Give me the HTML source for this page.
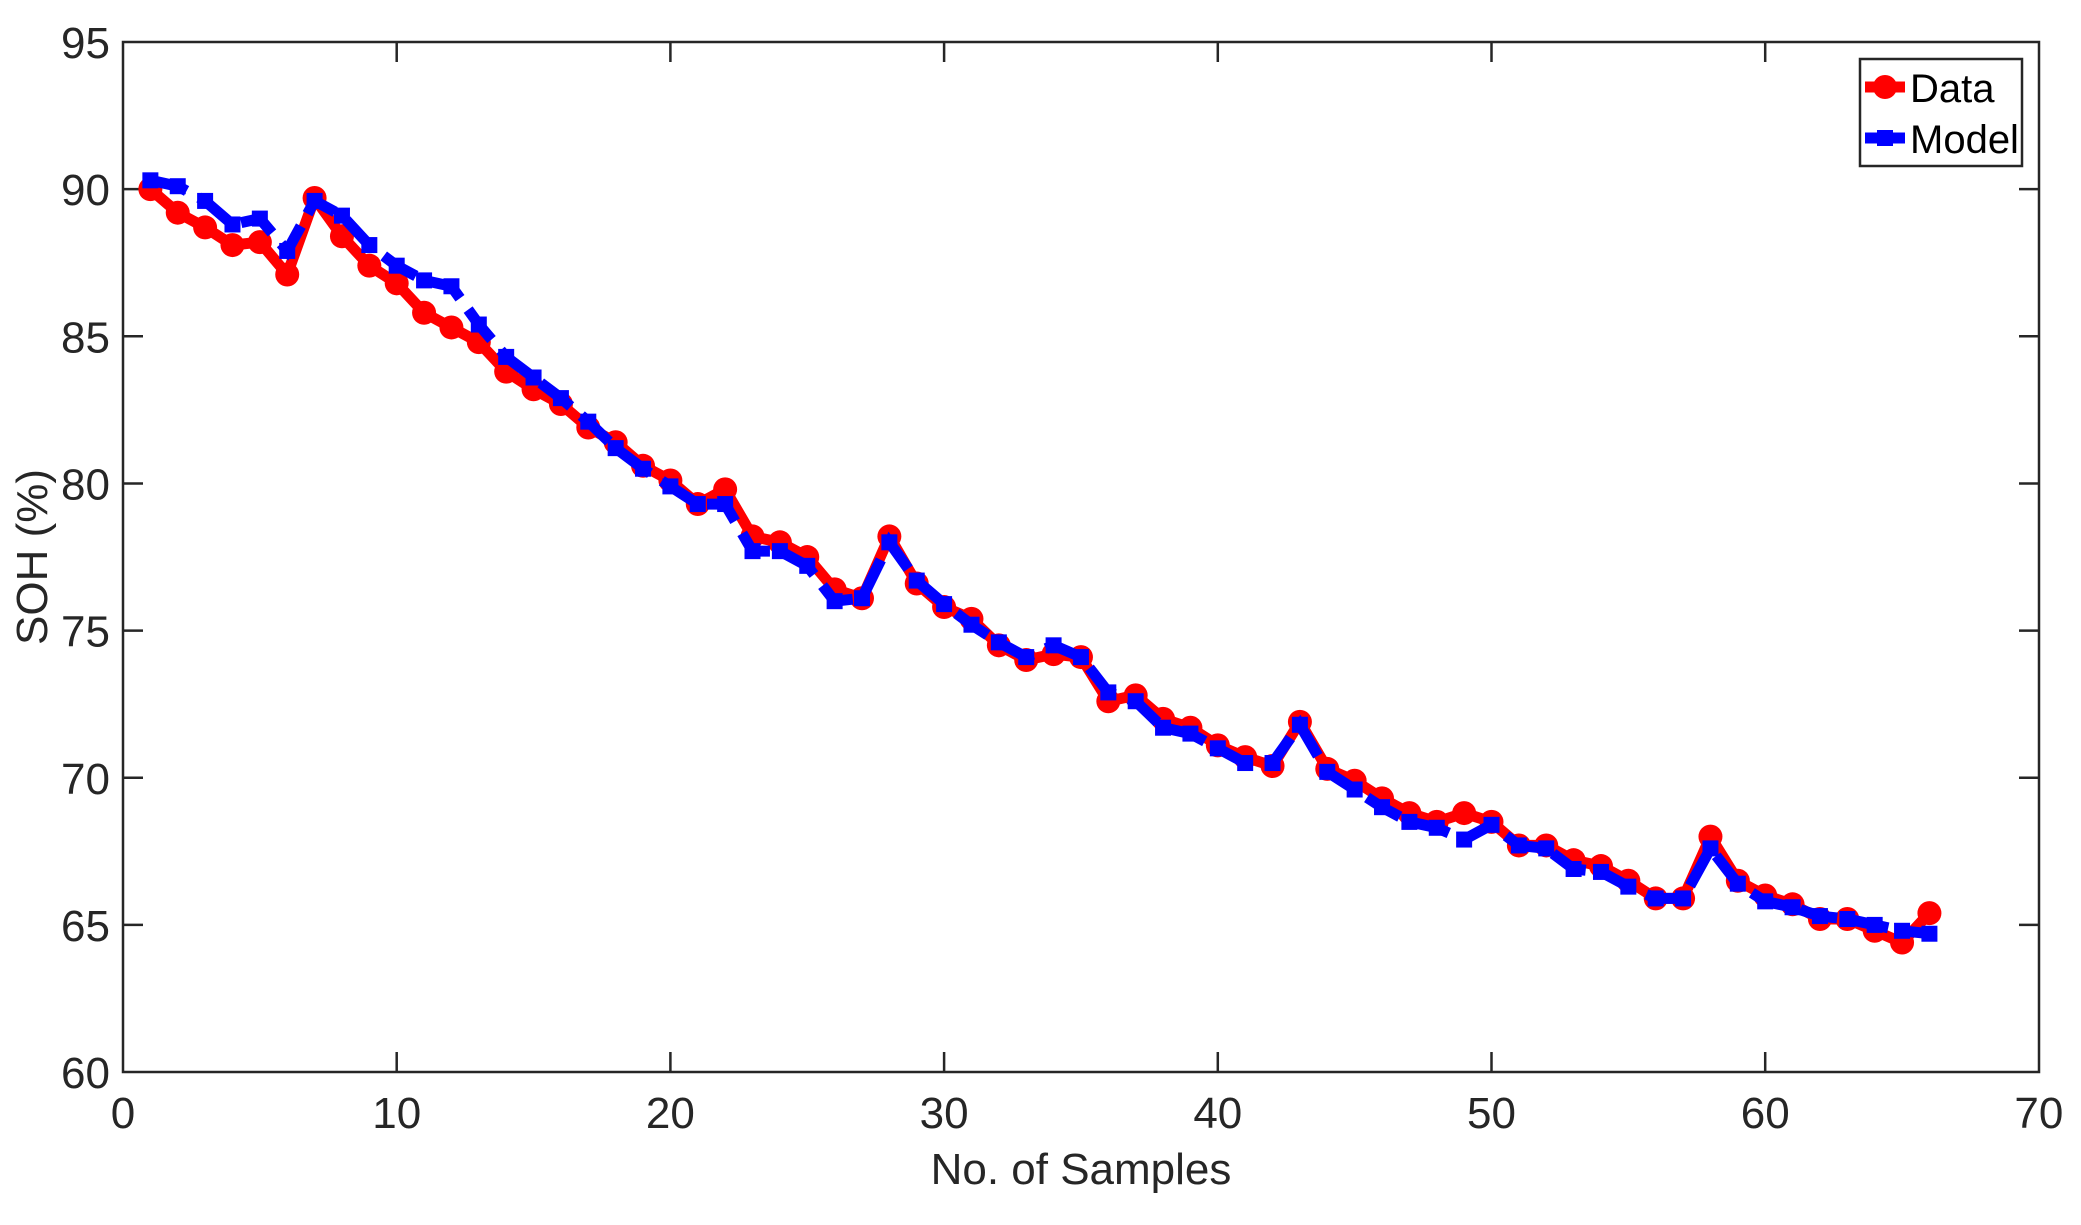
<!DOCTYPE html>
<html><head><meta charset="utf-8"><style>
html,body{margin:0;padding:0;background:#fff;}
svg text{font-family:"Liberation Sans",Arial,sans-serif;fill:#262626;}
</style></head><body>
<svg id="s" width="2081" height="1220" xmlns="http://www.w3.org/2000/svg">
<rect width="2081" height="1220" fill="#fff"/>
<g id="ax" stroke="#262626" stroke-width="2.5" fill="none">
<rect x="123" y="42" width="1916" height="1030"/>
</g>
<g id="ticks" stroke="#262626" stroke-width="2.5"></g>
<g id="lbl" font-size="44"></g>
<g id="plot"></g>
<text x="1081" y="1184" font-size="44" text-anchor="middle">No. of Samples</text>
<text transform="translate(47,557) rotate(-90)" font-size="44" text-anchor="middle">SOH (%)</text>
<rect x="1860" y="59" width="162" height="107" fill="#fff" stroke="#262626" stroke-width="2.5"/>
<line x1="1865" y1="87" x2="1905" y2="87" stroke="#f00" stroke-width="11"/>
<circle cx="1885" cy="87" r="12" fill="#f00"/>
<line x1="1865" y1="138" x2="1905" y2="138" stroke="#00f" stroke-width="11"/>
<rect x="1877" y="130" width="16" height="16" fill="#00f"/>
<text x="1910" y="102" font-size="40" style="fill:#000">Data</text>
<text x="1910" y="153" font-size="40" style="fill:#000">Model</text>
</svg>
<script>
var NS="http://www.w3.org/2000/svg";
function X(x){return 123+27.37*x;}function Y(v){return 42+(95-v)*29.43;}
function el(t,a,p){var e=document.createElementNS(NS,t);for(var k in a)e.setAttribute(k,a[k]);p.appendChild(e);return e;}
var tk=document.getElementById('ticks'),lb=document.getElementById('lbl'),pl=document.getElementById('plot');
for(var i=0;i<=70;i+=10){var x=X(i);
if(i>0&&i<70){el('line',{x1:x,y1:1072,x2:x,y2:1052},tk);el('line',{x1:x,y1:42,x2:x,y2:62},tk);}
var t=el('text',{x:x,y:1128,'text-anchor':'middle'},lb);t.textContent=i;}
for(var v=60;v<=95;v+=5){var y=Y(v);
if(v>60&&v<95){el('line',{x1:123,y1:y,x2:143,y2:y},tk);el('line',{x1:2039,y1:y,x2:2019,y2:y},tk);}
var t=el('text',{x:110,y:y+16,'text-anchor':'end'},lb);t.textContent=v;}
var d=[90.0,89.2,88.7,88.1,88.2,87.1,89.7,88.4,87.4,86.8,85.8,85.3,84.8,83.8,83.2,82.7,81.9,81.4,80.6,80.1,79.3,79.8,78.2,78.0,77.5,76.4,76.1,78.2,76.6,75.8,75.4,74.5,74.0,74.2,74.1,72.6,72.8,72.0,71.7,71.1,70.7,70.4,71.9,70.3,69.9,69.3,68.8,68.5,68.8,68.5,67.7,67.7,67.2,67.0,66.5,65.9,65.9,68.0,66.5,66.0,65.7,65.2,65.2,64.8,64.4,65.4];
var m=[90.3,90.1,89.6,88.8,89.0,87.9,89.6,89.1,88.1,87.4,86.9,86.7,85.4,84.3,83.6,82.9,82.1,81.2,80.5,79.9,79.3,79.3,77.7,77.7,77.2,76.0,76.1,78.0,76.7,75.9,75.2,74.6,74.1,74.5,74.1,72.9,72.6,71.7,71.5,71.0,70.5,70.5,71.8,70.2,69.6,69.0,68.5,68.3,67.9,68.4,67.7,67.6,66.9,66.8,66.3,65.9,65.9,67.6,66.4,65.8,65.6,65.3,65.2,65.0,64.8,64.7];
function pts(a){return a.map(function(v,i){return X(i+1).toFixed(1)+','+Y(v).toFixed(1);}).join(' ');}
el('polyline',{points:pts(d),fill:'none',stroke:'#f00','stroke-width':11,'stroke-linejoin':'round'},pl);
d.forEach(function(v,i){el('circle',{cx:X(i+1),cy:Y(v),r:12,fill:'#f00'},pl);});
el('polyline',{points:pts(m),fill:'none',stroke:'#00f','stroke-width':11,'stroke-dasharray':'38 14'},pl);
m.forEach(function(v,i){el('rect',{x:X(i+1)-8,y:Y(v)-8,width:16,height:16,fill:'#00f'},pl);});
</script>
</body></html>
